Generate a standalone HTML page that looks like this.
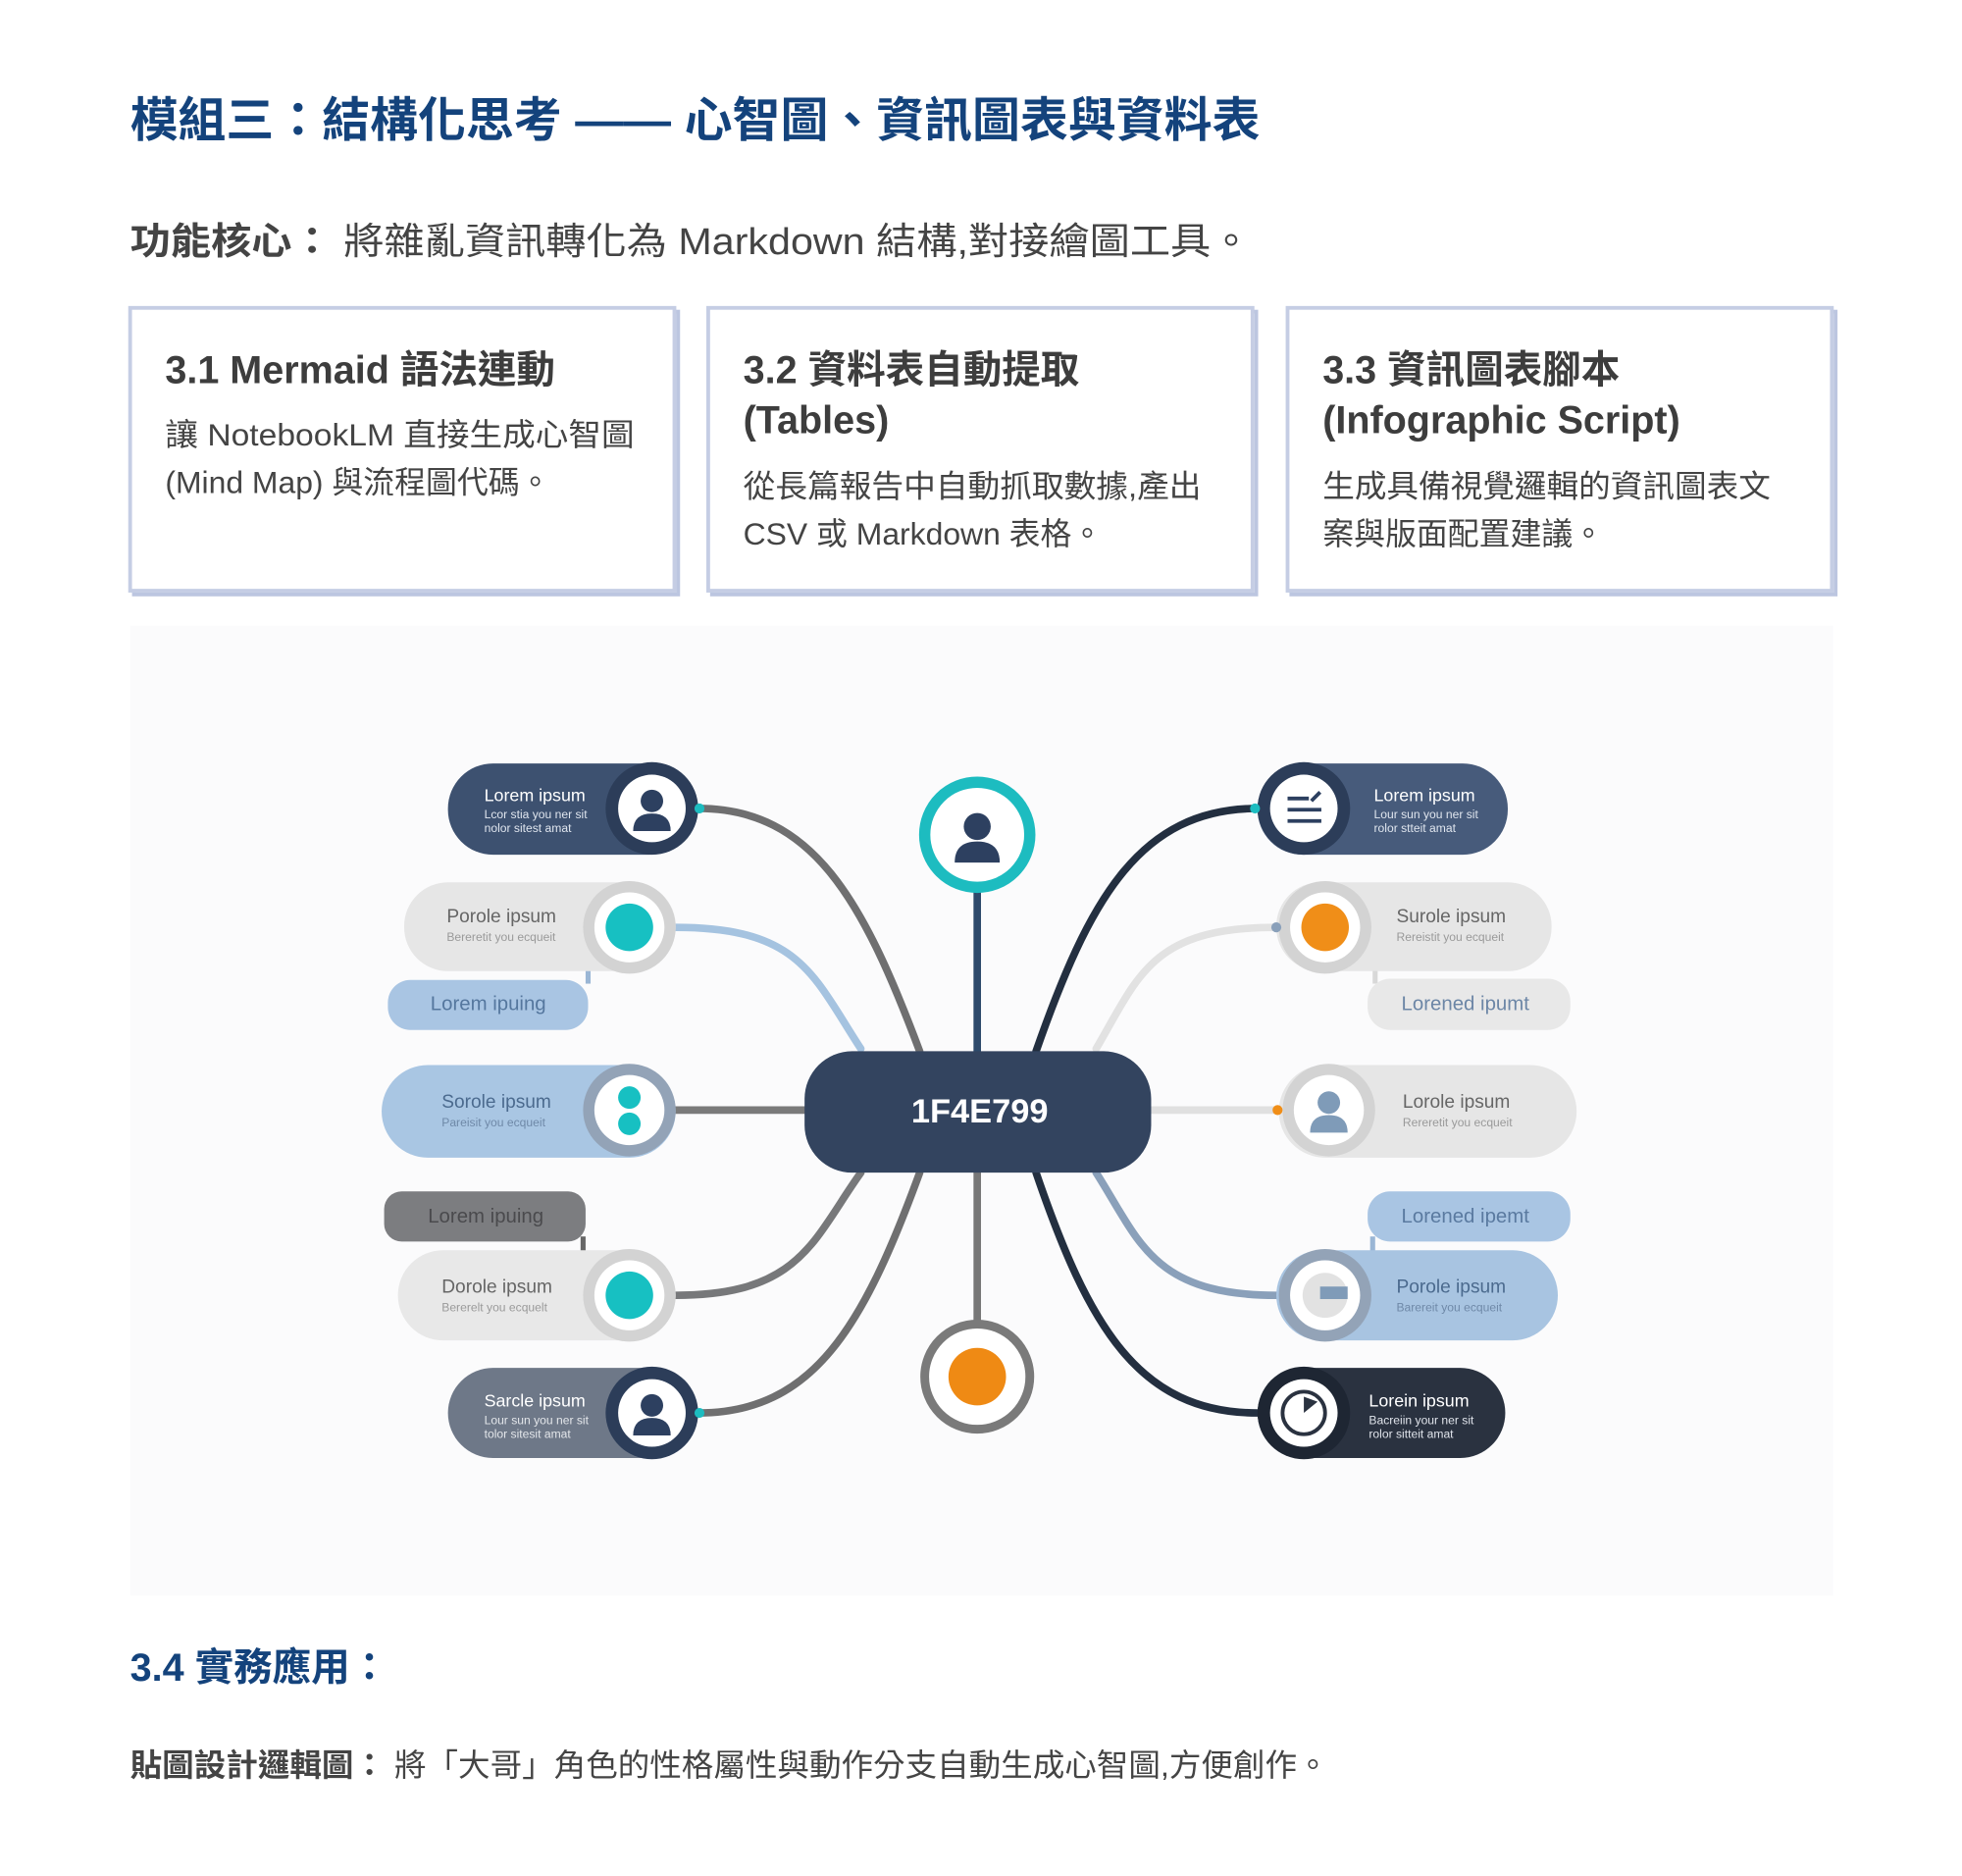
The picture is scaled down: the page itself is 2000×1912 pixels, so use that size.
<!DOCTYPE html>
<html><head><meta charset="utf-8"><style>
html,body{margin:0;padding:0;background:#fff;width:2000px;height:1912px;overflow:hidden}
svg{display:block}
text{font-family:"Liberation Sans","Noto Sans CJK TC",sans-serif}
</style></head><body>
<svg width="2000" height="1912" viewBox="0 0 1568 1499" preserveAspectRatio="none" xmlns="http://www.w3.org/2000/svg">
<defs>
<g id="person"><circle cx="0" cy="-8" r="9"/><path d="M-15,16 Q-15,2 0,2 Q15,2 15,16 Z"/></g>
</defs>
<!-- Title -->
<text x="104" y="109" font-size="38" font-weight="bold" fill="#14437c" textLength="903" lengthAdjust="spacingAndGlyphs">模組三：結構化思考 —— 心智圖、資訊圖表與資料表</text>
<text x="104" y="203" font-size="30" fill="#444" textLength="896" lengthAdjust="spacingAndGlyphs"><tspan font-weight="bold">功能核心：</tspan> 將雜亂資訊轉化為 Markdown 結構,對接繪圖工具。</text>

<!-- Cards -->
<g fill="#fff" stroke="#c5cde4" stroke-width="3">
<rect x="107" y="249" width="435" height="226" stroke="#bcc6e0"/>
<rect x="104" y="246" width="435" height="226"/>
<rect x="569" y="249" width="435" height="226" stroke="#bcc6e0"/>
<rect x="566" y="246" width="435" height="226"/>
<rect x="1032" y="249" width="435" height="226" stroke="#bcc6e0"/>
<rect x="1029" y="246" width="435" height="226"/>
</g>
<g font-size="31" font-weight="bold" fill="#3d3d3d">
<text x="132" y="306">3.1 Mermaid 語法連動</text>
<text x="594" y="306">3.2 資料表自動提取</text>
<text x="594" y="346">(Tables)</text>
<text x="1057" y="306">3.3 資訊圖表腳本</text>
<text x="1057" y="346">(Infographic Script)</text>
</g>
<g font-size="25" fill="#444">
<text x="132" y="356" textLength="375" lengthAdjust="spacingAndGlyphs">讓 NotebookLM 直接生成心智圖</text>
<text x="132" y="394">(Mind Map) 與流程圖代碼。</text>
<text x="594" y="397" textLength="366" lengthAdjust="spacingAndGlyphs">從長篇報告中自動抓取數據,產出</text>
<text x="594" y="435">CSV 或 Markdown 表格。</text>
<text x="1057" y="397" textLength="358" lengthAdjust="spacingAndGlyphs">生成具備視覺邏輯的資訊圖表文</text>
<text x="1057" y="435">案與版面配置建議。</text>
</g>

<!-- Diagram bg -->
<rect x="104" y="500" width="1361" height="775" fill="#fbfbfc"/>

<!-- connectors -->
<g fill="none" stroke-width="6" stroke-linecap="round">
<path d="M558,646 C650,646 690,720 735,840" stroke="#6f6f70"/>
<path d="M540,741 C640,741 650,780 688,838" stroke="#a5c3e0"/>
<path d="M540,887 L645,887" stroke="#7a7a7a"/>
<path d="M540,1035 C640,1035 650,990 688,937" stroke="#77787a"/>
<path d="M558,1129 C650,1129 690,1060 735,937" stroke="#6f6f70"/>
<path d="M1005,646 C910,646 870,720 828,840" stroke="#232f40"/>
<path d="M1020,741 C920,741 910,780 876,838" stroke="#e2e2e2"/>
<path d="M920,887 L1022,887" stroke="#e0e0e0"/>
<path d="M1020,1035 C920,1035 910,990 876,937" stroke="#8aa0ba"/>
<path d="M1005,1129 C910,1129 870,1060 828,937" stroke="#232f40"/>
<path d="M781,712 L781,842" stroke="#2e4a6b"/>
<path d="M781,935 L781,1055" stroke="#777"/>
</g>

<!-- center -->
<rect x="643" y="840" width="277" height="97" rx="38" fill="#33445f"/>
<text x="783" y="897" font-size="27" font-weight="bold" fill="#fff" text-anchor="middle">1F4E799</text>

<!-- top / bottom circles -->
<circle cx="781" cy="667" r="42" fill="#fff" stroke="#1dbcc0" stroke-width="9"/>
<g fill="#2d4060" transform="translate(781,670) scale(1.2)"><use href="#person"/></g>
<circle cx="781" cy="1100" r="42" fill="#fff" stroke="#7a7a7a" stroke-width="7"/>
<circle cx="781" cy="1100" r="23" fill="#ef8a14"/>

<!-- Left 1 -->
<rect x="358" y="610" width="197" height="73" rx="36" fill="#3d5170"/>
<circle cx="521" cy="646" r="37" fill="#2c3d59"/><circle cx="521" cy="646" r="27" fill="#fff"/>
<g fill="#2d4060" transform="translate(521,648)"><use href="#person"/></g>
<circle cx="559" cy="646" r="4" fill="#1dbcc0"/>
<text x="387" y="640" font-size="14" fill="#fff">Lorem ipsum</text>
<text x="387" y="654" font-size="9.5" fill="#dfe5ee">Lcor stia you ner sit</text>
<text x="387" y="665" font-size="9.5" fill="#dfe5ee">nolor sitest amat</text>

<!-- Left 2 -->
<rect x="468" y="772" width="4" height="14" fill="#9ab6d5"/>
<rect x="310" y="783" width="160" height="40" rx="18" fill="#a9c5e3"/>
<text x="344" y="807" font-size="16" fill="#55779e">Lorem ipuing</text>
<rect x="323" y="705" width="217" height="71" rx="35" fill="#e6e6e6"/>
<circle cx="503" cy="741" r="37" fill="#d3d3d3"/><circle cx="503" cy="741" r="28" fill="#fff"/>
<circle cx="503" cy="741" r="19" fill="#17c0c2"/>
<text x="357" y="737" font-size="15" fill="#666">Porole ipsum</text>
<text x="357" y="752" font-size="9.5" fill="#9a9a9a">Bereretit you ecqueit</text>

<!-- Left 3 -->
<rect x="305" y="851" width="235" height="74" rx="37" fill="#a9c6e3"/>
<circle cx="503" cy="887" r="37" fill="#93a3b7"/><circle cx="503" cy="887" r="28" fill="#fff"/>
<circle cx="503" cy="877" r="9" fill="#17c0c2"/><circle cx="503" cy="898" r="9" fill="#17c0c2"/>
<text x="353" y="885" font-size="15" fill="#4b6a8e">Sorole ipsum</text>
<text x="353" y="900" font-size="9.5" fill="#6f89a8">Pareisit you ecqueit</text>

<!-- Left 4 -->
<rect x="464" y="988" width="4" height="14" fill="#666"/>
<rect x="307" y="952" width="161" height="40" rx="14" fill="#7c7d80"/>
<text x="342" y="977" font-size="16" fill="#4a4a4d">Lorem ipuing</text>
<rect x="318" y="999" width="222" height="72" rx="36" fill="#e8e8e8"/>
<circle cx="503" cy="1035" r="37" fill="#d3d3d3"/><circle cx="503" cy="1035" r="28" fill="#fff"/>
<circle cx="503" cy="1035" r="19" fill="#17c0c2"/>
<text x="353" y="1033" font-size="15" fill="#666">Dorole ipsum</text>
<text x="353" y="1048" font-size="9.5" fill="#9a9a9a">Bererelt you ecquelt</text>

<!-- Left 5 -->
<rect x="358" y="1093" width="197" height="72" rx="36" fill="#6e7888"/>
<circle cx="521" cy="1129" r="37" fill="#2c3d59"/><circle cx="521" cy="1129" r="27" fill="#fff"/>
<g fill="#2d4060" transform="translate(521,1131)"><use href="#person"/></g>
<circle cx="559" cy="1129" r="4" fill="#1dbcc0"/>
<text x="387" y="1124" font-size="14" fill="#fff">Sarcle ipsum</text>
<text x="387" y="1138" font-size="9.5" fill="#e3e6ea">Lour sun you ner sit</text>
<text x="387" y="1149" font-size="9.5" fill="#e3e6ea">tolor sitesit amat</text>

<!-- Right 1 -->
<rect x="1005" y="610" width="200" height="73" rx="36" fill="#475b7b"/>
<circle cx="1042" cy="646" r="37" fill="#2c3d59"/><circle cx="1042" cy="646" r="27" fill="#fff"/>
<g stroke="#2d4060" stroke-width="3"><line x1="1029" y1="638" x2="1046" y2="638"/><line x1="1029" y1="647" x2="1056" y2="647"/><line x1="1029" y1="656" x2="1056" y2="656"/><line x1="1048" y1="640" x2="1055" y2="633"/></g>
<circle cx="1003" cy="646" r="4" fill="#1dbcc0"/>
<text x="1098" y="640" font-size="14" fill="#fff">Lorem ipsum</text>
<text x="1098" y="654" font-size="9.5" fill="#dfe5ee">Lour sun you ner sit</text>
<text x="1098" y="665" font-size="9.5" fill="#dfe5ee">rolor stteit amat</text>

<!-- Right 2 -->
<rect x="1097" y="772" width="4" height="14" fill="#d8d8d8"/>
<rect x="1093" y="782" width="162" height="41" rx="18" fill="#e8e8e8"/>
<text x="1120" y="807" font-size="16" fill="#6c86a6">Lorened ipumt</text>
<rect x="1020" y="705" width="220" height="71" rx="35" fill="#e6e6e6"/>
<circle cx="1059" cy="741" r="37" fill="#d3d3d3"/><circle cx="1059" cy="741" r="28" fill="#fff"/>
<circle cx="1059" cy="741" r="19" fill="#f08e18"/>
<circle cx="1020" cy="741" r="4" fill="#8aa0ba"/>
<text x="1116" y="737" font-size="15" fill="#666">Surole ipsum</text>
<text x="1116" y="752" font-size="9.5" fill="#9a9a9a">Rereistit you ecqueit</text>

<!-- Right 3 -->
<rect x="1022" y="851" width="238" height="74" rx="37" fill="#e6e6e6"/>
<circle cx="1062" cy="887" r="37" fill="#d3d3d3"/><circle cx="1062" cy="887" r="28" fill="#fff"/>
<g fill="#7f9bb8" transform="translate(1062,889)"><use href="#person"/></g>
<circle cx="1021" cy="887" r="4" fill="#f08e18"/>
<text x="1121" y="885" font-size="15" fill="#666">Lorole ipsum</text>
<text x="1121" y="900" font-size="9.5" fill="#9a9a9a">Rereretit you ecqueit</text>

<!-- Right 4 -->
<rect x="1095" y="988" width="4" height="14" fill="#9ab6d5"/>
<rect x="1093" y="952" width="162" height="40" rx="18" fill="#a9c5e3"/>
<text x="1120" y="977" font-size="16" fill="#5a7aa0">Lorened ipemt</text>
<rect x="1020" y="999" width="225" height="72" rx="36" fill="#a8c4e1"/>
<circle cx="1059" cy="1035" r="37" fill="#93a3b7"/><circle cx="1059" cy="1035" r="28" fill="#fff"/>
<circle cx="1059" cy="1035" r="18" fill="#e2e2e2"/><rect x="1055" y="1028" width="22" height="10" fill="#7f9bb8"/>
<text x="1116" y="1033" font-size="15" fill="#4b6a8e">Porole ipsum</text>
<text x="1116" y="1048" font-size="9.5" fill="#6f89a8">Barereit you ecqueit</text>

<!-- Right 5 -->
<rect x="1005" y="1093" width="198" height="72" rx="36" fill="#2a3240"/>
<circle cx="1042" cy="1129" r="37" fill="#1e2633"/><circle cx="1042" cy="1129" r="27" fill="#fff"/>
<circle cx="1042" cy="1129" r="17" fill="none" stroke="#2a3240" stroke-width="3"/>
<path d="M1042,1129 L1042,1116 L1053,1120 Z" fill="#2a3240"/>
<text x="1094" y="1124" font-size="14" fill="#fff">Lorein ipsum</text>
<text x="1094" y="1138" font-size="9.5" fill="#dfe3ea">Bacreiin your ner sit</text>
<text x="1094" y="1149" font-size="9.5" fill="#dfe3ea">rolor sitteit amat</text>

<!-- 3.4 -->
<text x="104" y="1343" font-size="31" font-weight="bold" fill="#14437c">3.4 實務應用：</text>
<text x="104" y="1419" font-size="25" fill="#444" textLength="958" lengthAdjust="spacingAndGlyphs"><tspan font-weight="bold">貼圖設計邏輯圖：</tspan> 將「大哥」角色的性格屬性與動作分支自動生成心智圖,方便創作。</text>
</svg>
</body></html>
